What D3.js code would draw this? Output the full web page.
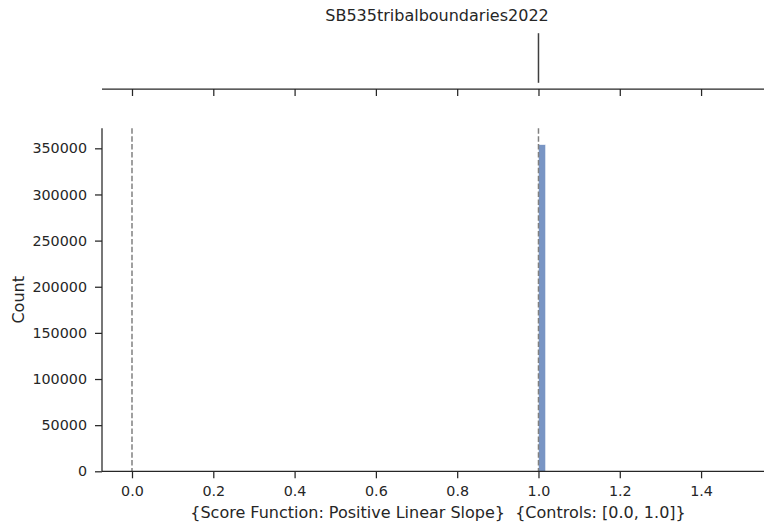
<!DOCTYPE html>
<html>
<head>
<meta charset="utf-8">
<script src="https://cdn.jsdelivr.net/npm/d3@7"></script>
<style>
  body { margin: 0; background: #fff; }
  text { font-family: "DejaVu Sans", sans-serif; fill: #262626; }
</style>
</head>
<body>
<svg id="chart" width="764" height="525"></svg>
<script>
// ---- data ----
const title = "SB535tribalboundaries2022";
const binEdges = [1.0, 1.0175];
const binCounts = [354000];
const boxValues = [1.0, 1.0, 1.0, 1.0, 1.0]; // min, q1, median, q3, max
const controls = [0.0, 1.0];
const xTicks = [0.0, 0.2, 0.4, 0.6, 0.8, 1.0, 1.2, 1.4];
const yTicks = [0, 50000, 100000, 150000, 200000, 250000, 300000, 350000];
const xLabel = "{Score Function: Positive Linear Slope}  {Controls: [0.0, 1.0]}";
const yLabel = "Count";

const svg = d3.select("#chart");
const left = 102, right = 764;
const mainTop = 128.3, mainBottom = 471.3;
const boxTop = 27, boxBottom = 89;
const ink = "#262626";
const labelSize = 16;
const tickSize = 14.3;

const x = d3.scaleLinear().domain([-0.0738, 1.5548]).range([left, right]);
const y = d3.scaleLinear().domain([0, 354000 * 1.05]).range([mainBottom, mainTop]);
const yb = d3.scaleBand().domain([title]).range([boxTop, boxBottom]).paddingInner(0).paddingOuter(0);

// ---- top panel (box plot) ----
const topG = svg.append("g");
const bandC = yb(title) + yb.bandwidth() / 2;
const bw = yb.bandwidth() * 0.8;
topG.append("line")
  .attr("x1", x(boxValues[2])).attr("x2", x(boxValues[2]))
  .attr("y1", bandC - bw / 2).attr("y2", bandC + bw / 2)
  .attr("stroke", "#3f3f3f").attr("stroke-width", 1.5);

const topAxis = svg.append("g").attr("transform", `translate(0,${boxBottom})`)
  .call(d3.axisBottom(x).tickValues(xTicks).tickSize(7).tickFormat(""));
topAxis.select(".domain").attr("stroke", ink).attr("stroke-width", 1.25).attr("d", `M${left},0H${right}`);
topAxis.selectAll(".tick line").attr("stroke", ink).attr("stroke-width", 1.25);

svg.append("text").attr("x", 437).attr("y", 21).attr("text-anchor", "middle")
  .attr("font-size", labelSize).text(title);

// ---- main histogram ----
svg.append("g").selectAll("rect").data(binCounts).join("rect")
  .attr("x", (d, i) => x(binEdges[i]))
  .attr("width", (d, i) => x(binEdges[i + 1]) - x(binEdges[i]))
  .attr("y", d => y(d))
  .attr("height", d => y(0) - y(d))
  .attr("fill", "#4c72b0").attr("fill-opacity", 0.75)
  .attr("stroke", "#ffffff").attr("stroke-width", 0.5);

// control dashed lines
svg.append("g").selectAll("line").data(controls).join("line")
  .attr("x1", d => x(d)).attr("x2", d => x(d))
  .attr("y1", mainTop).attr("y2", mainBottom)
  .attr("stroke", "#808080").attr("stroke-width", 1.5)
  .attr("stroke-dasharray", "5.5,2.4");

const xAxis = svg.append("g").attr("transform", `translate(0,${mainBottom})`)
  .call(d3.axisBottom(x).tickValues(xTicks).tickSize(7).tickPadding(7.5).tickFormat(d3.format(".1f")));
xAxis.select(".domain").attr("stroke", ink).attr("stroke-width", 1.25).attr("d", `M${left},0H${right}`);
xAxis.selectAll(".tick line").attr("stroke", ink).attr("stroke-width", 1.25);
xAxis.selectAll(".tick text").attr("font-size", tickSize).attr("font-family", "DejaVu Sans").attr("fill", ink);

const yAxis = svg.append("g").attr("transform", `translate(${left},0)`)
  .call(d3.axisLeft(y).tickValues(yTicks).tickSize(7).tickPadding(8).tickFormat(d3.format("d")));
yAxis.select(".domain").attr("stroke", ink).attr("stroke-width", 1.25).attr("d", `M0,${mainTop}V${mainBottom}`);
yAxis.selectAll(".tick line").attr("stroke", ink).attr("stroke-width", 1.25);
yAxis.selectAll(".tick text").attr("font-size", tickSize).attr("font-family", "DejaVu Sans").attr("fill", ink);

svg.append("text").attr("x", 438).attr("y", 518).attr("text-anchor", "middle")
  .attr("font-size", labelSize).style("white-space", "pre").text(xLabel);

svg.append("text").attr("transform", `translate(24,${(mainTop + mainBottom) / 2}) rotate(-90)`)
  .attr("text-anchor", "middle").attr("font-size", labelSize).text(yLabel);
</script>
</body>
</html>
